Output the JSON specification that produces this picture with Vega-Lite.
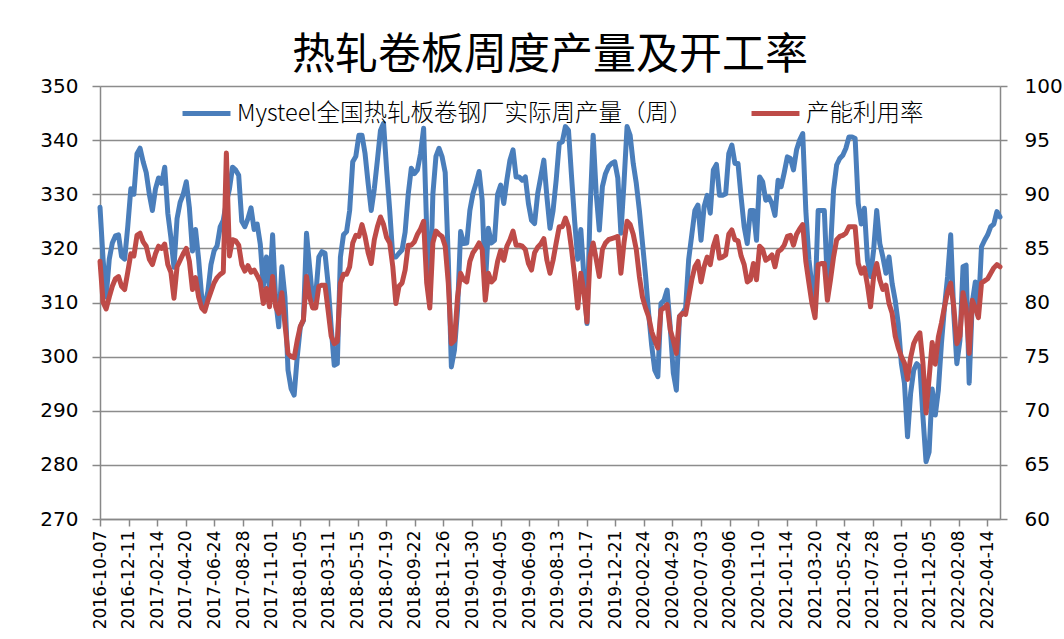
{
"$schema":"https://vega.github.io/schema/vega-lite/v6.json",
"width":900,"height":433,
"autosize":{"type":"none"},
"padding":{"left":100,"top":86,"right":64,"bottom":120},
"background":"white",
"config":{"view":{"stroke":null},"font":"DejaVu Sans"},
"title":{"text":"热轧卷板周度产量及开工率","font":"Noto Sans CJK SC","fontSize":43,"fontWeight":"normal","color":"black","anchor":"middle","offset":-2,"frame":"group"},
"data":{"values":[
{"d":"2016-10-07","b":327.6,"r":83.8},{"d":"2016-10-14","b":318,"r":80},{"d":"2016-10-21","b":311,"r":79.4},{"d":"2016-10-28","b":318,"r":80.5},{"d":"2016-11-04","b":321,"r":81.5},{"d":"2016-11-11","b":322.3,"r":82.2},{"d":"2016-11-18","b":322.5,"r":82.4},{"d":"2016-11-25","b":318.5,"r":81.5},{"d":"2016-12-02","b":318,"r":81.2},{"d":"2016-12-09","b":324,"r":82.8},{"d":"2016-12-16","b":331,"r":84.5},{"d":"2016-12-23","b":330,"r":84.3},{"d":"2016-12-30","b":337.5,"r":86.2},
{"d":"2017-01-06","b":338.5,"r":86.4},{"d":"2017-01-13","b":336,"r":85.6},{"d":"2017-01-20","b":334,"r":85.2},{"d":"2017-01-27","b":330,"r":84},{"d":"2017-02-03","b":327,"r":83.5},{"d":"2017-02-10","b":331,"r":84.5},{"d":"2017-02-17","b":333,"r":85.2},{"d":"2017-02-24","b":332,"r":85},{"d":"2017-03-03","b":335,"r":85.4},{"d":"2017-03-10","b":326.5,"r":83.5},{"d":"2017-03-17","b":322,"r":82.8},{"d":"2017-03-24","b":316.5,"r":80.4},{"d":"2017-03-31","b":325.5,"r":83.3},{"d":"2017-04-07","b":328.5,"r":83.9},{"d":"2017-04-14","b":330,"r":84.5},{"d":"2017-04-21","b":332.3,"r":85},{"d":"2017-04-28","b":327.5,"r":83.8},{"d":"2017-05-05","b":319.5,"r":81.2},{"d":"2017-05-12","b":323.5,"r":82.3},{"d":"2017-05-19","b":318,"r":80.5},{"d":"2017-05-26","b":311,"r":79.5},{"d":"2017-06-02","b":309.5,"r":79.2},{"d":"2017-06-09","b":312,"r":80.2},{"d":"2017-06-16","b":317,"r":81},{"d":"2017-06-23","b":319.5,"r":81.8},{"d":"2017-06-30","b":320.5,"r":82.3},{"d":"2017-07-07","b":324,"r":82.6},{"d":"2017-07-14","b":325.2,"r":82.8},{"d":"2017-07-21","b":328.5,"r":93.8},{"d":"2017-07-28","b":331,"r":84.3},{"d":"2017-08-04","b":335,"r":85.8},{"d":"2017-08-11","b":334.5,"r":85.7},{"d":"2017-08-18","b":333.5,"r":85.3},{"d":"2017-08-25","b":325,"r":83.5},{"d":"2017-09-01","b":324,"r":82.9},{"d":"2017-09-08","b":325.5,"r":83.4},{"d":"2017-09-15","b":327.5,"r":82.8},{"d":"2017-09-22","b":323.5,"r":83},{"d":"2017-09-29","b":324.5,"r":82.5},{"d":"2017-10-06","b":320.8,"r":81.9},{"d":"2017-10-13","b":313,"r":79.9},{"d":"2017-10-20","b":318.4,"r":81.3},{"d":"2017-10-27","b":312.3,"r":79.6},{"d":"2017-11-03","b":322.5,"r":82.4},{"d":"2017-11-10","b":310.4,"r":79.6},{"d":"2017-11-17","b":305.5,"r":79},{"d":"2017-11-24","b":316.6,"r":80.9},{"d":"2017-12-01","b":311,"r":78},{"d":"2017-12-08","b":297.5,"r":75.3},{"d":"2017-12-15","b":294.1,"r":75},{"d":"2017-12-22","b":292.9,"r":74.9},{"d":"2017-12-29","b":300,"r":76.5},
{"d":"2018-01-05","b":305.5,"r":77.8},{"d":"2018-01-12","b":306.7,"r":78.4},{"d":"2018-01-19","b":322.8,"r":82.4},{"d":"2018-01-26","b":316.6,"r":80.5},{"d":"2018-02-02","b":310.4,"r":79.5},{"d":"2018-02-09","b":311.4,"r":79.5},{"d":"2018-02-16","b":318.4,"r":81.5},{"d":"2018-02-23","b":319.4,"r":81.6},{"d":"2018-03-02","b":319.1,"r":81.6},{"d":"2018-03-09","b":313.5,"r":79.3},{"d":"2018-03-16","b":305.5,"r":76.9},{"d":"2018-03-23","b":298.4,"r":76.2},{"d":"2018-03-30","b":298.7,"r":76.4},{"d":"2018-04-06","b":318.4,"r":81.8},{"d":"2018-04-13","b":322.5,"r":82.6},{"d":"2018-04-20","b":323.1,"r":82.6},{"d":"2018-04-27","b":327,"r":83.3},{"d":"2018-05-04","b":336,"r":85.5},{"d":"2018-05-11","b":337,"r":86.2},{"d":"2018-05-18","b":340.9,"r":86.1},{"d":"2018-05-25","b":340.9,"r":87.2},{"d":"2018-06-01","b":337.5,"r":86.1},{"d":"2018-06-08","b":332,"r":84.6},{"d":"2018-06-15","b":327,"r":83.6},{"d":"2018-06-22","b":331,"r":85.8},{"d":"2018-06-29","b":336.3,"r":87},{"d":"2018-07-06","b":341.8,"r":87.9},{"d":"2018-07-13","b":343.1,"r":87.2},{"d":"2018-07-20","b":334.5,"r":86},{"d":"2018-07-27","b":327,"r":85.5},{"d":"2018-08-03","b":318.4,"r":83.3},{"d":"2018-08-10","b":318.4,"r":79.9},{"d":"2018-08-17","b":319.1,"r":81.5},{"d":"2018-08-24","b":319.7,"r":81.8},{"d":"2018-08-31","b":323,"r":83},{"d":"2018-09-07","b":330,"r":85.3},{"d":"2018-09-14","b":334.8,"r":85.3},{"d":"2018-09-21","b":333.8,"r":85.6},{"d":"2018-09-28","b":334.5,"r":86.3},{"d":"2018-10-05","b":337.5,"r":86.8},{"d":"2018-10-12","b":342.2,"r":87.5},{"d":"2018-10-19","b":323.4,"r":81.8},{"d":"2018-10-26","b":310,"r":79.5},{"d":"2018-11-02","b":330,"r":85.5},{"d":"2018-11-09","b":337,"r":86.6},{"d":"2018-11-16","b":338.5,"r":86.3},{"d":"2018-11-23","b":336.9,"r":86.1},{"d":"2018-11-30","b":334,"r":85.2},{"d":"2018-12-07","b":318,"r":81.8},{"d":"2018-12-14","b":298.1,"r":76.2},{"d":"2018-12-21","b":301.2,"r":76.5},{"d":"2018-12-28","b":308.6,"r":80.5},
{"d":"2019-01-04","b":323.1,"r":82.7},{"d":"2019-01-11","b":320.9,"r":82.1},{"d":"2019-01-18","b":321,"r":81.9},{"d":"2019-01-25","b":327,"r":83.8},{"d":"2019-02-01","b":330.1,"r":84.6},{"d":"2019-02-08","b":332,"r":85},{"d":"2019-02-15","b":334.2,"r":85.5},{"d":"2019-02-22","b":328.9,"r":84.9},{"d":"2019-03-01","b":313,"r":80.2},{"d":"2019-03-08","b":323.7,"r":82.7},{"d":"2019-03-15","b":321,"r":81.9},{"d":"2019-03-22","b":321.5,"r":82.2},{"d":"2019-03-29","b":330,"r":83.8},{"d":"2019-04-05","b":331.7,"r":84.8},{"d":"2019-04-12","b":328.3,"r":83.9},{"d":"2019-04-19","b":332.6,"r":85.2},{"d":"2019-04-26","b":336.3,"r":85.8},{"d":"2019-05-03","b":338.2,"r":86.6},{"d":"2019-05-10","b":333.2,"r":85.3},{"d":"2019-05-17","b":333.2,"r":85.3},{"d":"2019-05-24","b":332.6,"r":85.2},{"d":"2019-05-31","b":333.2,"r":84.9},{"d":"2019-06-07","b":328.3,"r":83.6},{"d":"2019-06-14","b":325.2,"r":83},{"d":"2019-06-21","b":324.6,"r":84.6},{"d":"2019-06-28","b":330.1,"r":85.1},{"d":"2019-07-05","b":333.2,"r":85.4},{"d":"2019-07-12","b":336.3,"r":85.9},{"d":"2019-07-19","b":329.5,"r":83.9},{"d":"2019-07-26","b":323.7,"r":82.7},{"d":"2019-08-02","b":327,"r":83.9},{"d":"2019-08-09","b":332.6,"r":85.5},{"d":"2019-08-16","b":339.4,"r":87},{"d":"2019-08-23","b":339.7,"r":87},{"d":"2019-08-30","b":342.5,"r":87.8},{"d":"2019-09-06","b":341.8,"r":87},{"d":"2019-09-13","b":333.2,"r":84.9},{"d":"2019-09-20","b":325,"r":82.4},{"d":"2019-09-27","b":318,"r":79.5},{"d":"2019-10-04","b":323.5,"r":82.7},{"d":"2019-10-11","b":314.8,"r":81},{"d":"2019-10-18","b":306.1,"r":78.2},{"d":"2019-10-25","b":327,"r":84.2},{"d":"2019-11-01","b":340.9,"r":85.5},{"d":"2019-11-08","b":330.1,"r":84},{"d":"2019-11-15","b":323.4,"r":82.4},{"d":"2019-11-22","b":331.4,"r":84.9},{"d":"2019-11-29","b":333.8,"r":85.5},{"d":"2019-12-06","b":335.1,"r":85.8},{"d":"2019-12-13","b":335.7,"r":85.9},{"d":"2019-12-20","b":336,"r":86},{"d":"2019-12-27","b":333,"r":86.1},
{"d":"2020-01-03","b":322.8,"r":82.7},{"d":"2020-01-10","b":332,"r":85.5},{"d":"2020-01-17","b":342.5,"r":87.5},{"d":"2020-01-24","b":340.9,"r":87.2},{"d":"2020-01-31","b":335.7,"r":86.3},{"d":"2020-02-07","b":332,"r":84.9},{"d":"2020-02-14","b":327,"r":82.4},{"d":"2020-02-21","b":321,"r":80.5},{"d":"2020-02-28","b":315,"r":79.5},{"d":"2020-03-06","b":308,"r":78.7},{"d":"2020-03-13","b":302,"r":77.3},{"d":"2020-03-20","b":297.5,"r":76.5},{"d":"2020-03-27","b":296.3,"r":75.8},{"d":"2020-04-03","b":309.8,"r":79.3},{"d":"2020-04-10","b":310.4,"r":79.5},{"d":"2020-04-17","b":312.3,"r":79.8},{"d":"2020-04-24","b":305.5,"r":77.5},{"d":"2020-05-01","b":297,"r":76.5},{"d":"2020-05-08","b":293.8,"r":75.3},{"d":"2020-05-15","b":307.4,"r":78.7},{"d":"2020-05-22","b":308,"r":79},{"d":"2020-05-29","b":309,"r":78.9},{"d":"2020-06-05","b":318,"r":80.5},{"d":"2020-06-12","b":322.5,"r":82.1},{"d":"2020-06-19","b":327,"r":83.3},{"d":"2020-06-26","b":328,"r":83.8},{"d":"2020-07-03","b":321.5,"r":81.9},{"d":"2020-07-10","b":327.7,"r":83.3},{"d":"2020-07-17","b":329.8,"r":84.2},{"d":"2020-07-24","b":326.5,"r":83.5},{"d":"2020-07-31","b":334.5,"r":85.2},{"d":"2020-08-07","b":335.5,"r":86.1},{"d":"2020-08-14","b":329.8,"r":84.1},{"d":"2020-08-21","b":329.8,"r":84.2},{"d":"2020-08-28","b":330.1,"r":84.4},{"d":"2020-09-04","b":337.5,"r":86.3},{"d":"2020-09-11","b":339.1,"r":86.7},{"d":"2020-09-18","b":335.7,"r":85.8},{"d":"2020-09-25","b":335.7,"r":85.7},{"d":"2020-10-02","b":329.5,"r":84.3},{"d":"2020-10-09","b":324,"r":83.5},{"d":"2020-10-16","b":320.9,"r":81.9},{"d":"2020-10-23","b":327,"r":82.1},{"d":"2020-10-30","b":327,"r":83.6},{"d":"2020-11-06","b":321.5,"r":82.1},{"d":"2020-11-13","b":333.2,"r":85.2},{"d":"2020-11-20","b":332.3,"r":84.9},{"d":"2020-11-27","b":328.9,"r":83.9},{"d":"2020-12-04","b":329.5,"r":84.1},{"d":"2020-12-11","b":328.3,"r":84.4},{"d":"2020-12-18","b":326.1,"r":83.3},{"d":"2020-12-25","b":332.6,"r":84.7},
{"d":"2021-01-01","b":331.4,"r":84.9},{"d":"2021-01-08","b":334,"r":85.3},{"d":"2021-01-15","b":336.9,"r":86.1},{"d":"2021-01-22","b":336.6,"r":86.2},{"d":"2021-01-29","b":334.5,"r":85.3},{"d":"2021-02-05","b":338.2,"r":86.3},{"d":"2021-02-12","b":340,"r":86.8},{"d":"2021-02-19","b":341.2,"r":87.2},{"d":"2021-02-26","b":327,"r":83.8},{"d":"2021-03-05","b":318,"r":81.8},{"d":"2021-03-12","b":313,"r":79.9},{"d":"2021-03-19","b":310.8,"r":78.6},{"d":"2021-03-26","b":327,"r":83.5},{"d":"2021-04-02","b":327,"r":83.6},{"d":"2021-04-09","b":327,"r":83.6},{"d":"2021-04-16","b":313.5,"r":80.2},{"d":"2021-04-23","b":319.7,"r":82.1},{"d":"2021-04-30","b":330.8,"r":84.2},{"d":"2021-05-07","b":335.4,"r":85.8},{"d":"2021-05-14","b":336.6,"r":86.1},{"d":"2021-05-21","b":337.2,"r":86.2},{"d":"2021-05-28","b":338.5,"r":86.4},{"d":"2021-06-04","b":340.6,"r":87},{"d":"2021-06-11","b":340.6,"r":87},{"d":"2021-06-18","b":340.3,"r":87},{"d":"2021-06-25","b":328.3,"r":83.6},{"d":"2021-07-02","b":324.5,"r":82.7},{"d":"2021-07-09","b":327.4,"r":83.2},{"d":"2021-07-16","b":317.8,"r":81.6},{"d":"2021-07-23","b":314.8,"r":79.6},{"d":"2021-07-30","b":319.7,"r":82.4},{"d":"2021-08-06","b":327,"r":83.6},{"d":"2021-08-13","b":320.9,"r":82.1},{"d":"2021-08-20","b":318.4,"r":81.2},{"d":"2021-08-27","b":315.4,"r":81.6},{"d":"2021-09-03","b":318.4,"r":79.9},{"d":"2021-09-10","b":313.5,"r":79},{"d":"2021-09-17","b":310.4,"r":76.9},{"d":"2021-09-24","b":306,"r":75.8},{"d":"2021-10-01","b":298.7,"r":75},{"d":"2021-10-08","b":295.1,"r":74.4},{"d":"2021-10-15","b":285.2,"r":72.9},{"d":"2021-10-22","b":293.2,"r":74.9},{"d":"2021-10-29","b":297.5,"r":76.2},{"d":"2021-11-05","b":298.7,"r":76.8},{"d":"2021-11-12","b":298.1,"r":77.2},{"d":"2021-11-19","b":288.9,"r":74.4},{"d":"2021-11-26","b":280.6,"r":69.8},{"d":"2021-12-03","b":282.4,"r":73},{"d":"2021-12-10","b":294,"r":76.3},{"d":"2021-12-17","b":289.2,"r":74.3},{"d":"2021-12-24","b":293.8,"r":76.8},{"d":"2021-12-31","b":302.4,"r":78.1},
{"d":"2022-01-07","b":309.2,"r":79.6},{"d":"2022-01-14","b":314.8,"r":81},{"d":"2022-01-21","b":322.5,"r":81.8},{"d":"2022-01-28","b":308,"r":79.6},{"d":"2022-02-04","b":298.7,"r":76.2},{"d":"2022-02-11","b":303,"r":76.9},{"d":"2022-02-18","b":316.6,"r":80.9},{"d":"2022-02-25","b":316.9,"r":79.5},{"d":"2022-03-04","b":295.1,"r":75.3},{"d":"2022-03-11","b":310,"r":80.2},{"d":"2022-03-18","b":313.8,"r":79.5},{"d":"2022-03-25","b":308.6,"r":78.6},{"d":"2022-04-01","b":320.3,"r":81.8},{"d":"2022-04-08","b":321.5,"r":82},{"d":"2022-04-15","b":322.5,"r":82.2},{"d":"2022-04-22","b":324,"r":82.7},{"d":"2022-04-29","b":324.5,"r":83.2},{"d":"2022-05-06","b":326.8,"r":83.5},{"d":"2022-05-13","b":325.8,"r":83.3}
]},
"encoding":{
"x":{"field":"d","type":"temporal","scale":{"type":"utc","domain":[{"year":2016,"month":10,"date":7,"utc":true},{"year":2022,"month":5,"date":13,"utc":true}]},
"axis":{"title":null,"format":"%Y-%m-%d","labelAngle":270,"labelFont":"DejaVu Sans","labelFontSize":17,"labelColor":"black","labelPadding":4,"labelOverlap":false,"labelFlush":false,"tickSize":7,"tickColor":"#888888","tickWidth":1.5,"domainColor":"#888888","domainWidth":1.5,"grid":false,
"values":[{"year":2016,"month":10,"date":7,"utc":true},{"year":2016,"month":12,"date":11,"utc":true},{"year":2017,"month":2,"date":14,"utc":true},{"year":2017,"month":4,"date":20,"utc":true},{"year":2017,"month":6,"date":24,"utc":true},{"year":2017,"month":8,"date":28,"utc":true},{"year":2017,"month":11,"date":1,"utc":true},{"year":2018,"month":1,"date":5,"utc":true},{"year":2018,"month":3,"date":11,"utc":true},{"year":2018,"month":5,"date":15,"utc":true},{"year":2018,"month":7,"date":19,"utc":true},{"year":2018,"month":9,"date":22,"utc":true},{"year":2018,"month":11,"date":26,"utc":true},{"year":2019,"month":1,"date":30,"utc":true},{"year":2019,"month":4,"date":5,"utc":true},{"year":2019,"month":6,"date":9,"utc":true},{"year":2019,"month":8,"date":13,"utc":true},{"year":2019,"month":10,"date":17,"utc":true},{"year":2019,"month":12,"date":21,"utc":true},{"year":2020,"month":2,"date":24,"utc":true},{"year":2020,"month":4,"date":29,"utc":true},{"year":2020,"month":7,"date":3,"utc":true},{"year":2020,"month":9,"date":6,"utc":true},{"year":2020,"month":11,"date":10,"utc":true},{"year":2021,"month":1,"date":14,"utc":true},{"year":2021,"month":3,"date":20,"utc":true},{"year":2021,"month":5,"date":24,"utc":true},{"year":2021,"month":7,"date":28,"utc":true},{"year":2021,"month":10,"date":1,"utc":true},{"year":2021,"month":12,"date":5,"utc":true},{"year":2022,"month":2,"date":8,"utc":true},{"year":2022,"month":4,"date":14,"utc":true}]}}
},
"layer":[
{"mark":{"type":"line","strokeWidth":5,"strokeJoin":"round","strokeCap":"round"},
"encoding":{
"y":{"field":"b","type":"quantitative","scale":{"domain":[270,350],"nice":false,"zero":false},
"axis":{"title":null,"values":[270,280,290,300,310,320,330,340,350],"grid":true,"gridColor":"#8c8c8c","gridWidth":1.5,"domainColor":"#888888","domainWidth":1.5,"tickColor":"#888888","tickWidth":1.5,"tickSize":8,"labelFont":"DejaVu Sans","labelFontSize":20,"labelColor":"black","labelPadding":14}},
"color":{"datum":"Mysteel全国热轧板卷钢厂实际周产量（周）","type":"nominal",
"scale":{"domain":["Mysteel全国热轧板卷钢厂实际周产量（周）","产能利用率"],"range":["#4A7EBB","#BE4B48"]},
"legend":{"orient":"none","legendX":80,"legendY":1,"direction":"horizontal","title":null,"symbolType":"stroke","symbolStrokeWidth":5,"symbolSize":2300,"labelFont":"Noto Sans CJK SC","labelFontSize":23.5,"labelFontWeight":300,"labelColor":"black","labelLimit":900,"columnPadding":48,"labelOffset":4}}
}},
{"mark":{"type":"line","strokeWidth":5,"strokeJoin":"round","strokeCap":"round"},
"encoding":{
"y":{"field":"r","type":"quantitative","scale":{"domain":[60,100],"nice":false,"zero":false},
"axis":{"orient":"right","title":null,"values":[60,65,70,75,80,85,90,95,100],"grid":false,"domainColor":"#888888","domainWidth":1.5,"tickColor":"#888888","tickWidth":1.5,"tickSize":7,"labelFont":"DejaVu Sans","labelFontSize":20,"labelColor":"black","labelPadding":17}},
"color":{"datum":"产能利用率","type":"nominal"}
}}
],
"resolve":{"scale":{"y":"independent"}}
}
